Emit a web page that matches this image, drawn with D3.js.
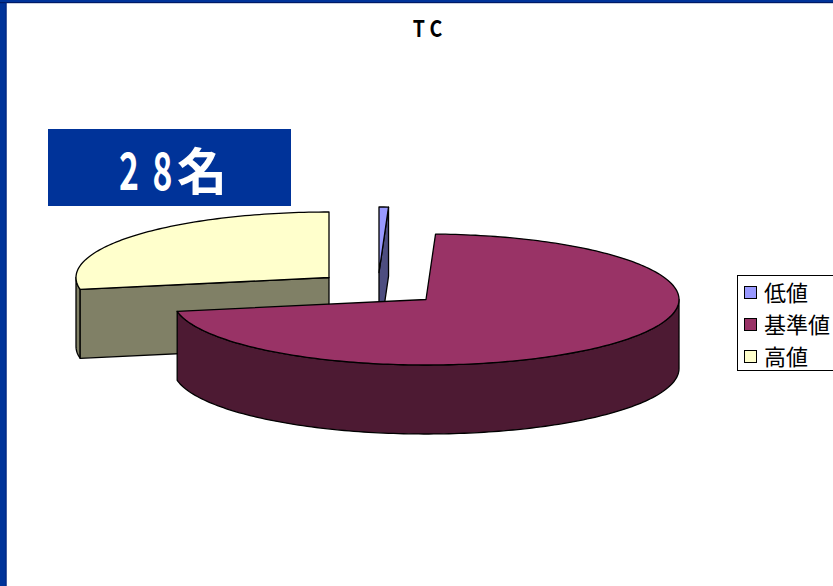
<!DOCTYPE html>
<html><head><meta charset="utf-8">
<script src="https://cdn.jsdelivr.net/npm/d3@7/dist/d3.min.js"></script>
<style>html,body{margin:0;padding:0;background:#fff;overflow:hidden}svg{display:block}</style>
</head><body><svg id="c" width="833" height="586"></svg>
<script>
const categories = ["低値","基準値","高値"];
const values = [0.6, 71.5, 27.9];
const topColors = ["#9999ff","#993366","#ffffcc"];
const sideColors = ["#4d4d80","#4d1a33","#808066"];
const titleText = "T C";
const countText = ["2","8","名"];

const W=833,H=586, rx=253, ry=65.5, depth=69;
const centers = [[379,272.5],[426,299.5],[329,277.5]];
const svg=d3.select("#c");
const ink="#000";
svg.append("rect").attr("width",W).attr("height",H).attr("fill","#003399");
svg.append("rect").attr("x",6.5).attr("y",3).attr("width",W).attr("height",H).attr("fill","#fff");
svg.append("rect").attr("x",0).attr("y",2).attr("width",W).attr("height",1.2).attr("fill","#001a66");
svg.append("rect").attr("x",5.6).attr("y",2).attr("width",0.9).attr("height",H).attr("fill","#002277");

const arcs=d3.pie().sort(null).value(d=>d)(values);
const sx=d3.scaleLinear().domain([-1,1]).range([-rx,rx]);
const sy=d3.scaleLinear().domain([-1,1]).range([-ry,ry]);
const pt=(i,a,dz=0)=>[centers[i][0]+sx(Math.sin(a)),centers[i][1]-sy(Math.cos(a))+dz];
const line=d3.line();
const arcPts=(i,a0,a1,dz=0)=>{const n=Math.max(2,Math.ceil(Math.abs(a1-a0)/0.02));return d3.range(n+1).map(k=>pt(i,a0+(a1-a0)*k/n,dz));};
const poly=(pts,fill)=>svg.append("path").attr("d",line(pts)+"Z").attr("fill",fill).attr("stroke",ink).attr("stroke-width",1.3).attr("stroke-linejoin","round");

// high slice (back-left)
{const i=2,a=arcs[i];
 const s=a.startAngle,e=a.endAngle,w=3*Math.PI/2;
 poly([...arcPts(i,s,w),...arcPts(i,w,s,depth)],sideColors[i]);
 poly([centers[i],pt(i,s),pt(i,s,depth),[centers[i][0],centers[i][1]+depth]],sideColors[i]);
 poly([centers[i],...arcPts(i,s,e)],topColors[i]);
}
// low slice
{const i=0,a=arcs[i];
 poly([centers[i],pt(i,a.endAngle),pt(i,a.endAngle,depth),[centers[i][0],centers[i][1]+depth]],sideColors[i]);
 poly([centers[i],...arcPts(i,a.startAngle,a.endAngle)],topColors[i]);
}
// main slice
{const i=1,a=arcs[i];
 poly([...arcPts(i,Math.PI/2,a.endAngle),...arcPts(i,a.endAngle,Math.PI/2,depth)],sideColors[i]);
 poly([centers[i],...arcPts(i,a.startAngle,a.endAngle)],topColors[i]);
}

// title
svg.append("text").attr("transform","translate(427.5,37) scale(0.85,1)").attr("text-anchor","middle")
 .attr("font-family","'Noto Sans CJK JP'").attr("font-weight",700).attr("font-size",23)
 .attr("xml:space","preserve").text(titleText);

// count box
svg.append("rect").attr("x",48).attr("y",129).attr("width",243).attr("height",77).attr("fill","#003399");
const cx=[129,162.5,202], fs=[51,51,50], sc=[0.66,0.66,1];
svg.selectAll("text.count").data(countText).join("text").attr("class","count")
 .attr("transform",(d,i)=>`translate(${cx[i]},190) scale(${sc[i]},1)`).attr("text-anchor","middle")
 .attr("font-family","'Noto Sans CJK JP'").attr("font-weight",700)
 .attr("font-size",(d,i)=>fs[i]).attr("fill","#fff").text(d=>d);

// legend
svg.append("rect").attr("x",737.5).attr("y",275.5).attr("width",110).attr("height",95).attr("fill","#fff").attr("stroke","#000");
const ly=d3.scalePoint().domain(categories).range([293,357]);
const lg=svg.selectAll("g.lg").data(categories).join("g").attr("class","lg").attr("transform",d=>`translate(0,${ly(d)})`);
lg.append("rect").attr("x",744.5).attr("y",-6.5).attr("width",12).attr("height",12).attr("stroke","#000")
 .attr("fill",(d,i)=>topColors[i]);
lg.append("text").attr("x",764).attr("y",8).attr("font-family","'Noto Sans CJK JP'").attr("font-size",22).attr("fill","#000").text(d=>d);
</script></body></html>
